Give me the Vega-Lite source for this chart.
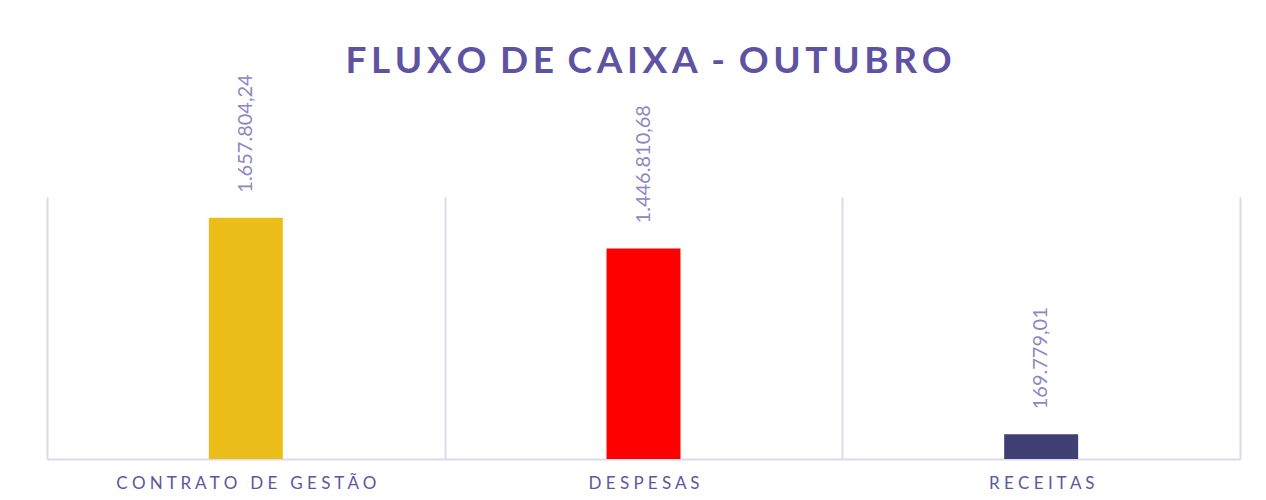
{
  "$schema": "https://vega.github.io/schema/vega-lite/v6.json",
  "width": 1193,
  "height": 262,
  "autosize": {"type": "none"},
  "padding": {"left": 47, "top": 197, "right": 26, "bottom": 41},
  "background": "white",
  "config": {
    "view": {"stroke": null},
    "locale": {"number": {"decimal": ",", "thousands": ".", "grouping": [3], "currency": ["R$", ""]}}
  },
  "title": {
    "text": "F\u2009L\u2009U\u2009X\u2009O\u2009 D\u2009E\u2009 C\u2009A\u2009I\u2009X\u2009A\u2009 -\u2009 O\u2009U\u2009T\u2009U\u2009B\u2009R\u2009O",
    "font": "Lato",
    "fontSize": 37,
    "fontWeight": "bold",
    "color": "#5E52A2",
    "anchor": "middle",
    "offset": -7,
    "dx": 5
  },
  "data": {
    "values": [
      {"categoria": "CONTRATO DE GESTÃO", "valor": 1657804.24},
      {"categoria": "DESPESAS", "valor": 1446810.68},
      {"categoria": "RECEITAS", "valor": 169779.01}
    ]
  },
  "encoding": {
    "x": {
      "field": "categoria",
      "type": "nominal",
      "sort": null,
      "scale": {"paddingInner": 0, "paddingOuter": 0},
      "axis": {
        "title": null,
        "labelAngle": 0,
        "tickBand": "extent",
        "grid": true,
        "gridColor": "#DCDAEC",
        "gridWidth": 2,
        "domainColor": "#DCDAEC",
        "domainWidth": 2,
        "ticks": false,
        "labelPadding": 16,
        "labelFont": "Lato",
        "labelFontSize": 17,
        "labelColor": "#5E55A3",
        "labelLimit": 0,
        "labelExpr": "join(split(replace(replace(datum.label, ' ', '\u2005'), ' ', '\u2005'), ''), ' ')"
      }
    },
    "y": {
      "field": "valor",
      "type": "quantitative",
      "scale": {"domain": [0, 1800000], "nice": false},
      "axis": null
    }
  },
  "layer": [
    {
      "mark": {"type": "bar", "width": {"band": 0.186}},
      "encoding": {
        "color": {
          "field": "categoria",
          "type": "nominal",
          "scale": {"domain": ["CONTRATO DE GESTÃO", "DESPESAS", "RECEITAS"], "range": ["#EBBE1A", "#FF0000", "#403F73"]},
          "legend": null
        }
      }
    },
    {
      "mark": {"type": "text", "angle": -90, "align": "left", "baseline": "middle", "dx": 25, "font": "Lato", "fontSize": 20, "fontWeight": 400, "color": "#8E86C2"},
      "encoding": {
        "text": {"field": "valor", "type": "quantitative", "format": ",.2f"}
      }
    }
  ]
}
